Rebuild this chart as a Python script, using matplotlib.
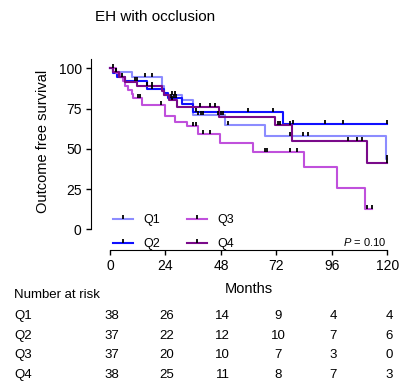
import numpy as np
import matplotlib
matplotlib.use('agg')
import matplotlib.pyplot as plt
from matplotlib.path import Path
from matplotlib.lines import Line2D
from matplotlib.transforms import blended_transform_factory

plt.rcParams['font.family'] = ['Liberation Sans', 'DejaVu Sans']
plt.rcParams['mathtext.fontset'] = 'custom'
plt.rcParams['mathtext.it'] = 'Liberation Sans:italic'
plt.rcParams['mathtext.rm'] = 'Liberation Sans'

##### Data
groups = ['Q1', 'Q2', 'Q3', 'Q4']
colors = ['#8c8cff', '#1010ff', '#c050dc', '#7a0a8a']

q1_t = [0, 1.5, 9.4, 22.5, 23.5, 31.0, 36.0, 49.8, 67.1, 119.5, 120]
q1_s = [100, 97.4, 94.7, 89.0, 83.4, 80.2, 70.9, 64.7, 58.0, 43.5, 43.5]
q1_c = [2.5, 15.2, 18.1, 27, 28, 38.2, 39.5, 40.4, 46.9, 48, 49, 51, 78, 83.6, 85.8, 120]

q2_t = [0, 1.2, 3.0, 6.5, 15.9, 23.5, 25.0, 31.0, 36.0, 75.0, 120]
q2_s = [100, 97.3, 94.6, 91.9, 87.4, 84.6, 81.5, 78.1, 73.0, 65.7, 65.7]
q2_c = [5, 10.8, 11.5, 18, 26.5, 27.5, 28.5, 37, 59.9, 70.7, 79, 93, 101, 120]

q3_t = [0, 2.5, 4.5, 5.5, 6.5, 7.9, 9.4, 10.1, 13.7, 23.8, 28.1, 33.2, 38.2, 47.6, 62.0, 83.8, 98.1, 110.4, 113.2]
q3_s = [100, 97.3, 94.6, 91.9, 89.2, 86.5, 83.8, 81.6, 77.5, 70.4, 66.7, 64.0, 59.5, 53.3, 48.1, 38.4, 25.4, 12.6, 12.6]
q3_c = [1.5, 12.3, 13.0, 22.1, 36.0, 37.0, 40.1, 43.3, 67.1, 67.8, 77.9, 80.8, 111.2, 113.2]

q4_t = [0, 1.5, 4.0, 6.5, 11.5, 22.7, 23.5, 25.5, 29.0, 47.3, 71.4, 78.6, 111.0, 120]
q4_s = [100, 97.4, 94.7, 91.8, 88.7, 86.0, 83.2, 80.3, 76.0, 69.8, 64.6, 55.0, 41.3, 41.3]
q4_c = [2.5, 15.9, 18, 27, 38.9, 43.3, 45.5, 72.5, 73.5, 77.8, 103, 107, 109, 120]

risk_times = [0, 24, 48, 72, 96, 120]
risk_q1 = [38, 26, 14, 9, 4, 4]
risk_q2 = [37, 22, 12, 10, 7, 6]
risk_q3 = [37, 20, 10, 7, 3, 0]
risk_q4 = [38, 25, 11, 8, 7, 3]

curves = [(q1_t, q1_s, q1_c), (q2_t, q2_s, q2_c), (q3_t, q3_s, q3_c), (q4_t, q4_s, q4_c)]
risks = [risk_q1, risk_q2, risk_q3, risk_q4]

#censor tick marker pointing up from the line
tick_marker = Path([(0, 0), (0, 1)], [Path.MOVETO, Path.LINETO])

def surv_at(t, s, x):
    i = np.searchsorted(t, x, side='right') - 1
    return s[max(i, 0)]

##### Plot
fig = plt.figure(figsize=(4.01, 3.86), dpi=100)
W, H = 401.0, 386.0
x0, x1 = 110.0, 387.3
y0, y100 = 229.3, 68.3
ytop = 106
ypx = (y0 - y100) / 100.0
ax = fig.add_axes([x0 / W, 1 - y0 / H, (x1 - x0) / W, ytop * ypx / H])
ax.set_xlim(0, 120)
ax.set_ylim(0, ytop)

for (t, s, c), col in zip(curves, colors):
    ax.step(t, s, where='post', color=col, lw=1.5, clip_on=False, zorder=2)
for (t, s, c), col in zip(curves, colors):
    cy = [surv_at(t, s, x) for x in c]
    ax.plot(c, cy, ls='none', marker=tick_marker, markersize=6, markeredgecolor='black',
            markeredgewidth=1.3, clip_on=False, zorder=3)

for side in ['top', 'right']:
    ax.spines[side].set_visible(False)
ax.spines['left'].set_position(('outward', 14))
ax.spines['bottom'].set_position(('outward', 15))
ax.spines['left'].set_bounds(0, ytop)
ax.spines['bottom'].set_bounds(0, 120)
ax.set_xticks(risk_times)
ax.set_yticks([0, 25, 50, 75, 100])
ax.tick_params(axis='both', labelsize=10, length=3.6, width=1, pad=3)
ax.tick_params(axis='y', pad=2.8)

handles = [Line2D([], [], color=col, lw=1.5, marker=tick_marker, markersize=6,
                  markeredgecolor='black', markeredgewidth=1.3) for col in colors]
fig.legend(handles, groups, ncol=2, loc='upper left', bbox_to_anchor=(113 / W, 1 - 214 / H),
           frameon=False, fontsize=9, borderaxespad=0, borderpad=0, handlelength=1.6,
           handletextpad=0.85, columnspacing=2.1, labelspacing=0.95, numpoints=1)

ax.text(119.5, -7.7, r'$P$ = 0.10', fontsize=8, ha='right', va='center')

fig.text(95 / W, 1 - 17 / H, 'EH with occlusion', fontsize=11, ha='left', va='center')
fig.text(43 / W, 1 - 141 / H, 'Outcome free survival', fontsize=10.5, rotation=90,
         ha='center', va='center')
fig.text(249 / W, 1 - 289 / H, 'Months', fontsize=10.5, ha='center', va='center')

fig.text(14 / W, 1 - 295 / H, 'Number at risk', fontsize=9.5, ha='left', va='center')
trans = blended_transform_factory(ax.transData, fig.transFigure)
row_y = [316, 335.7, 355, 375]
for g, r, yy in zip(groups, risks, row_y):
    fig.text(14 / W, 1 - yy / H, g, fontsize=9.5, ha='left', va='center')
    for tt, n in zip(risk_times, r):
        ax.text(tt + 0.7, 1 - yy / H, str(n), fontsize=9.5, ha='center', va='center',
                transform=trans, clip_on=False)

plt.savefig('out.png', dpi=100)
